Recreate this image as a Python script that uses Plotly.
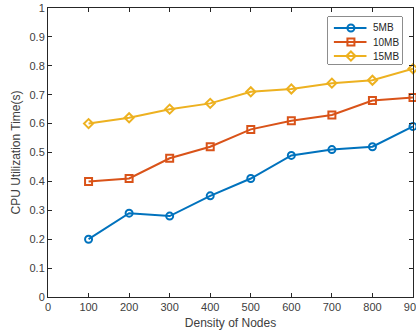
import plotly.graph_objects as go

nodes = [100, 200, 300, 400, 500, 600, 700, 800, 900]
mb5 = [0.20, 0.29, 0.28, 0.35, 0.41, 0.49, 0.51, 0.52, 0.59]
mb10 = [0.40, 0.41, 0.48, 0.52, 0.58, 0.61, 0.63, 0.68, 0.69]
mb15 = [0.60, 0.62, 0.65, 0.67, 0.71, 0.72, 0.74, 0.75, 0.79]
series_names = ["5MB", "10MB", "15MB"]
x_ticks = [0, 100, 200, 300, 400, 500, 600, 700, 800, 900]
y_ticks = [0, 0.1, 0.2, 0.3, 0.4, 0.5, 0.6, 0.7, 0.8, 0.9, 1]
y_labels = ["0", "0.1", "0.2", "0.3", "0.4", "0.5", "0.6", "0.7", "0.8", "0.9", "1"]

colors = ["#0072BD", "#D95319", "#EDB120"]
symbols = ["circle-open", "square-open", "diamond-open"]
FONT = "Liberation Sans, Arial"

fig = go.Figure()
for name, vals, c, s in zip(series_names, [mb5, mb10, mb15], colors, symbols):
    fig.add_trace(go.Scatter(
        x=nodes, y=vals, name=name, mode="lines+markers",
        line=dict(color=c, width=2),
        marker=dict(symbol=s, size=7, color=c, line=dict(color=c, width=2)),
        cliponaxis=False, showlegend=False,
    ))

# compact MATLAB-style legend drawn on an auxiliary invisible axis
leg_rows = [0.766, 0.468, 0.170]
for name, c, s, ry in zip(series_names, colors, symbols, leg_rows):
    fig.add_trace(go.Scatter(
        x=[0.08, 0.31, 0.52], y=[ry, ry, ry], mode="lines",
        line=dict(color=c, width=2), xaxis="x2", yaxis="y2",
        showlegend=False, hoverinfo="skip",
    ))
    fig.add_trace(go.Scatter(
        x=[0.31], y=[ry], mode="markers",
        marker=dict(symbol=s, size=7, color=c, line=dict(color=c, width=2)),
        xaxis="x2", yaxis="y2", showlegend=False, hoverinfo="skip",
    ))
    fig.add_annotation(x=0.58, y=ry, xref="x2", yref="y2", text=name, showarrow=False,
                       xanchor="left", yanchor="middle",
                       font=dict(family=FONT, size=10, color="#262626"))

LX0, LX1, LY0, LY1 = 0.767, 0.970, 0.806, 0.969
fig.add_shape(type="rect", xref="paper", yref="paper", x0=LX0, x1=LX1, y0=LY0, y1=LY1,
              line=dict(color="#262626", width=1), fillcolor="white", layer="below")

axis_common = dict(
    showgrid=False, zeroline=False, showline=True, linecolor="#262626", linewidth=1,
    mirror="ticks", ticks="inside", ticklen=4, tickcolor="#262626",
    tickfont=dict(family=FONT, size=11, color="#404040"),
    ticklabeloverflow="allow", automargin=False,
)

fig.update_layout(
    width=416, height=335,
    margin=dict(l=48, r=3, t=8, b=38),
    paper_bgcolor="white", plot_bgcolor="white",
    xaxis=dict(range=[0, 900], tickvals=x_ticks,
               title=dict(text="Density of Nodes", standoff=6,
                          font=dict(family=FONT, size=12, color="#404040")),
               **axis_common),
    yaxis=dict(range=[0, 1], tickvals=y_ticks, ticktext=y_labels,
               title=dict(text="CPU Utilization Time(s)", standoff=6,
                          font=dict(family=FONT, size=12, color="#404040")),
               **axis_common),
    xaxis2=dict(domain=[LX0, LX1], range=[0, 1], visible=False, anchor="y2"),
    yaxis2=dict(domain=[LY0, LY1], range=[0, 1], visible=False, anchor="x2"),
    showlegend=False,
)

fig.write_html("out.html")
